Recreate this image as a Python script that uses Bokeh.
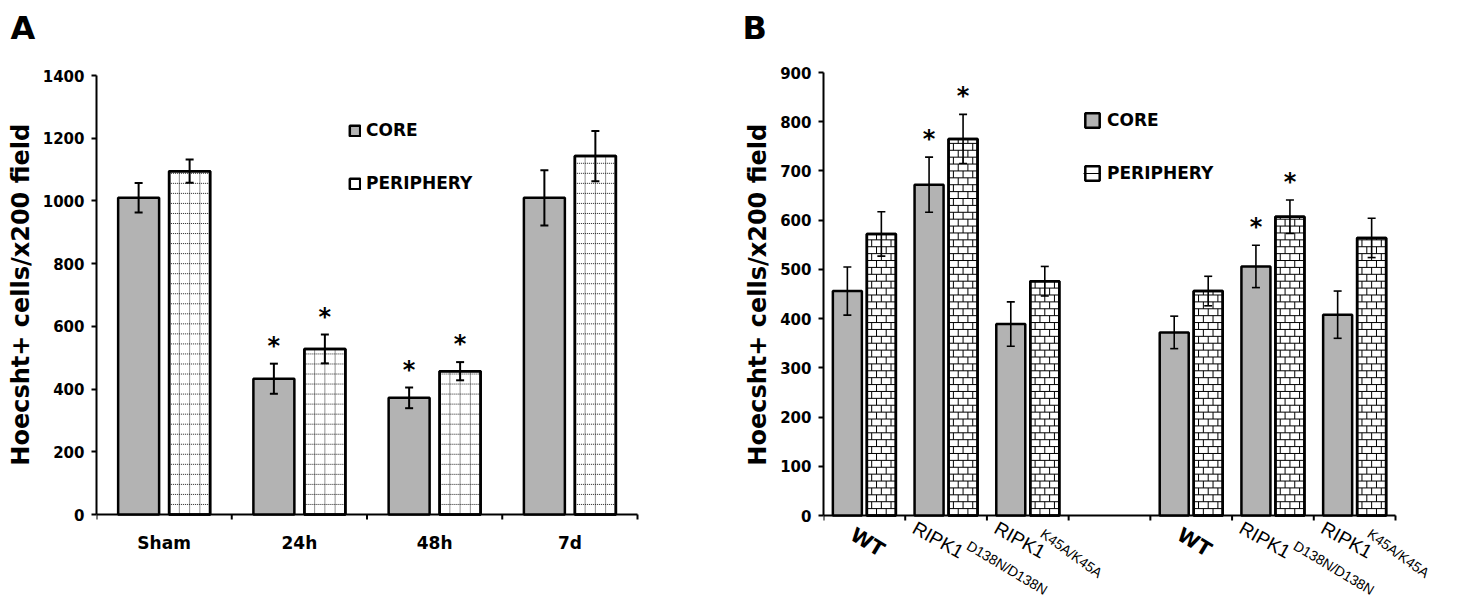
import numpy as np
from bokeh.plotting import figure
from bokeh.models import (Range1d, FixedTicker, ColumnDataSource, Whisker, TeeHead,
                          Legend, LegendItem)
from bokeh.layouts import row
from bokeh.embed import file_html
from bokeh.resources import INLINE
from bokeh.core.properties import value

# ---------------- data: panel A ----------------
a_groups = ["Sham", "24h", "48h", "7d"]
a_core = [1010, 433, 372, 1010]
a_core_err = [47, 48, 33, 88]
a_periph = [1095, 528, 457, 1143]
a_periph_err = [37, 46, 29, 80]
a_core_sig = [False, True, True, False]
a_periph_sig = [False, True, True, False]
a_yticks = [0, 200, 400, 600, 800, 1000, 1200, 1400]

# ---------------- data: panel B ----------------
b_names = ["WT", "RIPK1", "RIPK1", "WT", "RIPK1", "RIPK1"]
b_sups = ["", "D138N/D138N", "K45A/K45A", "", "D138N/D138N", "K45A/K45A"]
b_core = [456, 672, 389, 372, 506, 408]
b_core_err = [49, 56, 45, 33, 43, 48]
b_periph = [572, 765, 476, 456, 607, 564]
b_periph_err = [45, 50, 30, 30, 34, 40]
b_core_sig = [False, True, False, False, True, False]
b_periph_sig = [False, True, False, False, True, False]
b_yticks = [0, 100, 200, 300, 400, 500, 600, 700, 800, 900]

Y_LABEL = "Hoecsht+ cells/x200 field"

GRAY = "#b3b3b3"
BOLD = value("DejaVu Sans")
REG = value("Liberation Sans")
W, H = 730, 601
TOP = 46   # top border shared by both panels (holds the panel letter)
LABEL_PAD = "\u00a0" * 7   # lifts the centred y-axis title to sit beside the value range
STAR_GAP_PX = 4


def make_panel(letter, letter_x, left, axis_px_y, top_px_y, yticks, slot_px, n_slots):
    """Figure whose frame runs to the right/bottom edges; value 0 sits at pixel row axis_px_y."""
    ypx = (axis_px_y - top_px_y) / yticks[-1]
    y_end = yticks[-1] + (top_px_y - TOP) / ypx
    y_start = -(H - axis_px_y) / ypx
    x_end = (W - left) / slot_px
    p = figure(width=W, height=H, output_backend="svg", toolbar_location=None,
               x_axis_location=None,
               x_range=Range1d(0, x_end), y_range=Range1d(y_start, y_end),
               min_border_left=left, min_border_right=0, min_border_top=TOP, min_border_bottom=0)
    p.xgrid.visible = False
    p.ygrid.visible = False
    p.outline_line_color = None
    ax = p.yaxis[0]
    ax.axis_line_width = 2
    ax.axis_line_color = "black"
    ax.major_tick_line_width = 2
    ax.major_tick_in = 0
    ax.major_tick_out = 5
    ax.minor_tick_out = 0
    ax.minor_tick_in = 0
    ax.ticker = FixedTicker(ticks=yticks, minor_ticks=[])
    ax.bounds = (yticks[0], yticks[-1])
    ax.major_label_text_font = "DejaVu Sans"
    ax.major_label_text_font_style = "bold"
    ax.major_label_text_color = "black"
    ax.major_label_text_font_size = "15px"
    ax.major_label_standoff = 7
    ax.axis_label = LABEL_PAD + Y_LABEL
    ax.axis_label_text_font = "DejaVu Sans"
    ax.axis_label_text_font_style = "bold"
    ax.axis_label_text_font_size = "24px"
    ax.axis_label_text_color = "black"
    ax.axis_label_standoff = 5
    p.title.text = letter
    p.title.align = "left"
    p.title.offset = letter_x - left
    p.title.text_font = "DejaVu Sans"
    p.title.text_font_style = "bold"
    p.title.text_font_size = "32px"
    p.title.text_color = "black"
    p.title.standoff = 0
    # category axis line with boundary ticks at value 0
    edges = list(range(n_slots + 1))
    p.segment(x0=[0], y0=[0], x1=[n_slots], y1=[0], line_color="black", line_width=2)
    p.segment(x0=edges, y0=[0] * len(edges), x1=edges, y1=[-5 / ypx] * len(edges),
              line_color="black", line_width=2)
    return p, ypx


def grid_segments(centers, tops, width, row_h, ncols):
    x0, y0, x1, y1 = [], [], [], []
    for c, t in zip(centers, tops):
        left, right = c - width / 2, c + width / 2
        yy = row_h
        while yy < t:
            x0.append(left); x1.append(right); y0.append(yy); y1.append(yy)
            yy += row_h
        for j in range(1, ncols):
            xx = left + j * width / ncols
            x0.append(xx); x1.append(xx); y0.append(0); y1.append(t)
    return dict(x0=x0, y0=y0, x1=x1, y1=y1)


def brick_segments(centers, tops, width, row_h, ncols):
    x0, y0, x1, y1 = [], [], [], []
    bw = width / ncols
    for c, t in zip(centers, tops):
        left, right = c - width / 2, c + width / 2
        k = 0
        while k * row_h < t:
            yb = k * row_h
            yt = min((k + 1) * row_h, t)
            if k > 0:
                x0.append(left); x1.append(right); y0.append(yb); y1.append(yb)
            shift = bw / 2 if k % 2 else 0
            for j in range(0, ncols + 1):
                xx = left + shift + j * bw
                if left + 1e-6 < xx < right - 1e-6:
                    x0.append(xx); x1.append(xx); y0.append(yb); y1.append(yt)
            k += 1
    return dict(x0=x0, y0=y0, x1=x1, y1=y1)


def add_whiskers(p, xs, ys, es, lw, size):
    src = ColumnDataSource(dict(x=xs, upper=[y + e for y, e in zip(ys, es)],
                                lower=[y - e for y, e in zip(ys, es)]))
    p.add_layout(Whisker(base="x", upper="upper", lower="lower", source=src, level="overlay",
                         line_width=lw, line_color="black",
                         upper_head=TeeHead(size=size, line_width=lw, line_color="black"),
                         lower_head=TeeHead(size=size, line_width=lw, line_color="black")))


def add_stars(p, ypx, sets):
    sx, sy = [], []
    for xs, ys, es, sig in sets:
        for x, y, e, s in zip(xs, ys, es, sig):
            if s:
                sx.append(x); sy.append(y + e + STAR_GAP_PX / ypx)
    p.text(x=sx, y=sy, text=["*"] * len(sx), text_font=BOLD, text_font_style="bold",
           text_font_size="24px", text_align="center", text_baseline="bottom", text_color="black")


def make_legend(core_r, peri_rs, loc, gsize, standoff):
    return Legend(items=[LegendItem(label="CORE", renderers=[core_r]),
                         LegendItem(label="PERIPHERY", renderers=peri_rs)],
                  location=loc, glyph_width=gsize, glyph_height=gsize, label_height=20, spacing=33,
                  padding=0, margin=0, border_line_alpha=0, background_fill_alpha=0,
                  label_standoff=standoff, label_text_color="black",
                  label_text_font="DejaVu Sans", label_text_font_style="bold",
                  label_text_font_size="17px")


# ================= Panel A =================
A_L, A_AXIS, A_TOPV = 96, 514, 75
n_a = len(a_groups)
a_xpx = 135.25
pa, a_ypx = make_panel("A", 10, A_L, A_AXIS, A_TOPV, a_yticks, a_xpx, n_a)

a_off, a_w = 0.1885, 0.303
a_xc = [i + 0.5 - a_off for i in range(n_a)]
a_xp = [i + 0.5 + a_off for i in range(n_a)]
core_a = pa.vbar(x=a_xc, top=a_core, width=a_w, fill_color=GRAY, line_color="black", line_width=2.5)
peri_a = pa.vbar(x=a_xp, top=a_periph, width=a_w, fill_color="white", line_color="black", line_width=2.5)
pa.segment(source=ColumnDataSource(grid_segments(a_xp, a_periph, a_w, 32, 4)),
           x0="x0", y0="y0", x1="x1", y1="y1", line_color="#222222", line_width=1, line_dash="1 1")
pa.vbar(x=a_xp, top=a_periph, width=a_w, fill_alpha=0, line_color="black", line_width=2.5)
add_whiskers(pa, a_xc, a_core, a_core_err, 2, 8)
add_whiskers(pa, a_xp, a_periph, a_periph_err, 2, 8)
add_stars(pa, a_ypx, [(a_xc, a_core, a_core_err, a_core_sig),
                      (a_xp, a_periph, a_periph_err, a_periph_sig)])
pa.add_layout(make_legend(core_a, [peri_a], (252, H - 193), 13, 5))
pa.text(x=[i + 0.5 for i in range(n_a)], y=[-28 / a_ypx] * n_a, text=a_groups,
        text_font=BOLD, text_font_style="bold", text_font_size="17px",
        text_align="center", text_baseline="alphabetic", text_color="black")

# ================= Panel B =================
B_L, B_AXIS, B_TOPV = 93, 515, 72
n_b = len(b_names)
slots = [i + i // 3 for i in range(n_b)]
n_slots = max(slots) + 1
b_xpx = 81.714
pb, b_ypx = make_panel("B", 742 - 730, B_L, B_AXIS, B_TOPV, b_yticks, b_xpx, n_slots)

b_off, b_w = 0.208, 0.355
b_xc = [s + 0.5 - b_off for s in slots]
b_xp = [s + 0.5 + b_off for s in slots]
core_b = pb.vbar(x=b_xc, top=b_core, width=b_w, fill_color=GRAY, line_color="black", line_width=2.5)
peri_b = pb.vbar(x=b_xp, top=b_periph, width=b_w, fill_color="white", line_color="black", line_width=2.5)
brick = pb.segment(source=ColumnDataSource(brick_segments(b_xp, b_periph, b_w, 14, 3)),
                   x0="x0", y0="y0", x1="x1", y1="y1", line_color="black", line_width=1)
pb.vbar(x=b_xp, top=b_periph, width=b_w, fill_alpha=0, line_color="black", line_width=2.5)
add_whiskers(pb, b_xc, b_core, b_core_err, 1.6, 8)
add_whiskers(pb, b_xp, b_periph, b_periph_err, 1.6, 8)
add_stars(pb, b_ypx, [(b_xc, b_core, b_core_err, b_core_sig),
                      (b_xp, b_periph, b_periph_err, b_periph_sig)])
pb.add_layout(make_legend(core_b, [peri_b, brick], (260, H - 183), 18, 6))

# rotated category labels (with superscripts) under the category axis
wt_x, wt_y = [], []
rk_x, rk_y = [], []
sp_x, sp_y, sp_t, sp_a = [], [], [], []
for s, name, sup in zip(slots, b_names, b_sups):
    if name == "WT":
        wt_x.append(s + 35 / b_xpx); wt_y.append(-7 / b_ypx)
    else:
        x0 = s + 14 / b_xpx
        y0 = -2 / b_ypx
        rk_x.append(x0); rk_y.append(y0)
        if sup.startswith("D"):
            dx, dy, ang = 53, 20, -31
        else:
            dx, dy, ang = 46, 8, -36
        sp_x.append(x0 + dx / b_xpx); sp_y.append(y0 - dy / b_ypx)
        sp_t.append(sup); sp_a.append(np.deg2rad(ang))
pb.text(x=wt_x, y=wt_y, text=["WT"] * len(wt_x), angle=np.deg2rad(-31),
        text_font=BOLD, text_font_style="bold", text_font_size="20px",
        text_align="left", text_baseline="top", text_color="black")
pb.text(x=rk_x, y=rk_y, text=["RIPK1"] * len(rk_x), angle=np.deg2rad(-29),
        text_font=REG, text_font_size="19px",
        text_align="left", text_baseline="top", text_color="black")
pb.text(source=ColumnDataSource(dict(x=sp_x, y=sp_y, t=sp_t, a=sp_a)), x="x", y="y", text="t",
        angle="a", text_font=REG, text_font_size="14px",
        text_align="left", text_baseline="top", text_color="black")

layout = row(pa, pb)
open("out.html", "w").write(file_html(layout, INLINE))
